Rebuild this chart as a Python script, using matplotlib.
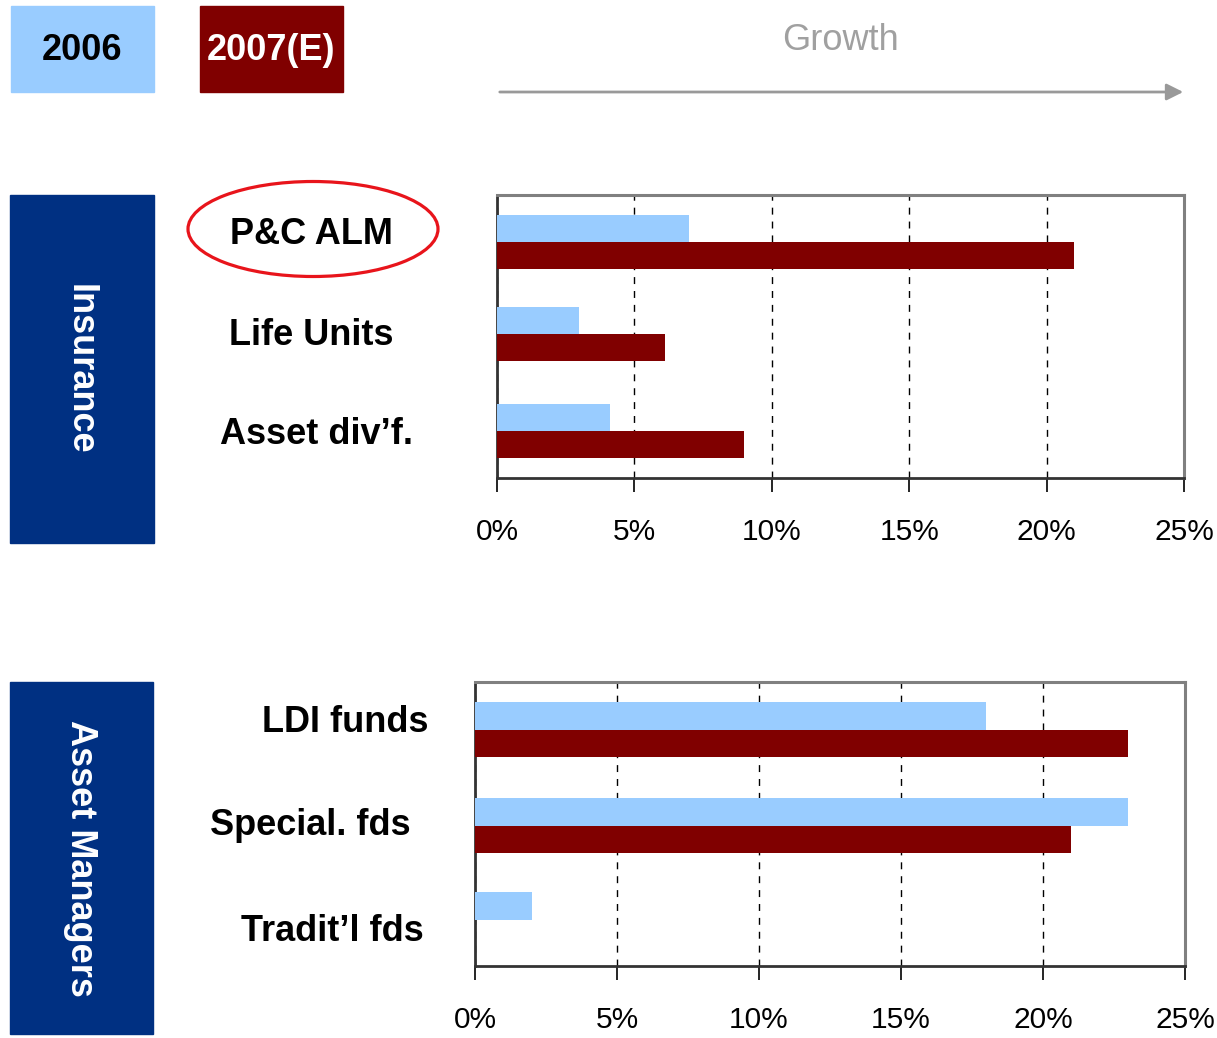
import matplotlib.pyplot as plt
from matplotlib.patches import Rectangle, Ellipse

# growth rates in %
ins_cats = ["P&C ALM", "Life Units", "Asset div\u2019f."]
ins_2006 = [7.0, 3.0, 4.1]
ins_2007 = [21.0, 6.1, 9.0]

am_cats = ["LDI funds", "Special. fds", "Tradit\u2019l fds"]
am_2006 = [18.0, 23.0, 2.0]
am_2007 = [23.0, 21.0, 0.0]

xticks = [0, 5, 10, 15, 20, 25]
xtick_labels = ["0%", "5%", "10%", "15%", "20%", "25%"]

LIGHT = "#99CCFF"
DARK = "#800000"
NAVY = "#003082"

plt.rcParams['font.family'] = ['Liberation Sans', 'DejaVu Sans']

fig = plt.figure(figsize=(12.17, 10.38), dpi=100)


def bar_panel(rect, cats, v06, v07, centers, h, label_xy):
    ax = fig.add_axes(rect)
    light_y = [c - h / 2 for c in centers]
    dark_y = [c + h / 2 for c in centers]
    ax.barh(light_y, v06, height=h, color=LIGHT, zorder=3)
    ax.barh(dark_y, v07, height=h, color=DARK, zorder=3)
    ax.set_ylim(3, 0)
    ax.set_xlim(0, 25)
    ax.set_xticks(xticks)
    ax.set_xticklabels(xtick_labels, fontsize=21.5)
    ax.tick_params(axis='x', direction='out', length=10, width=1.2, pad=19, color='black')
    ax.set_yticks([])
    ax.grid(axis='x', color='black', linestyle=(0, (5, 5)), linewidth=1, zorder=1)
    for s in ['top', 'right']:
        ax.spines[s].set_color('#808080')
        ax.spines[s].set_linewidth(2.2)
    for s in ['left', 'bottom']:
        ax.spines[s].set_color('#333333')
        ax.spines[s].set_linewidth(2)
    # category labels sit left of the frame, placed by hand like the slide
    for (lx, ly), name in zip(label_xy, cats):
        ax.text(lx, ly, name, transform=ax.transAxes,
                ha='center', va='center', fontsize=26, fontweight='bold')
    return ax


bar_panel([0.4084, 0.5395, 0.5645, 0.2726], ins_cats, ins_2006, ins_2007,
          [0.5, 1.47, 2.5], 0.286,
          [(-0.27, 0.86), (-0.27, 0.505), (-0.263, 0.152)])
bar_panel([0.3903, 0.0694, 0.5834, 0.2736], am_cats, am_2006, am_2007,
          [0.505, 1.52, 2.51], 0.29,
          [(-0.183, 0.859), (-0.232, 0.493), (-0.201, 0.12)])

# legend boxes
fig.patches.append(Rectangle((11 / 1217, 1 - 92 / 1038), 143 / 1217, 86 / 1038,
                             transform=fig.transFigure, color=LIGHT))
fig.patches.append(Rectangle((200 / 1217, 1 - 92 / 1038), 143 / 1217, 86 / 1038,
                             transform=fig.transFigure, color=DARK))
fig.text(82 / 1217, 1 - 50 / 1038, "2006", ha='center', va='center',
         fontsize=26, fontweight='bold', color='black')
fig.text(271 / 1217, 1 - 50 / 1038, "2007(E)", ha='center', va='center',
         fontsize=26, fontweight='bold', color='white')

# side group boxes
fig.patches.append(Rectangle((10 / 1217, 1 - 543 / 1038), 144 / 1217, 348 / 1038,
                             transform=fig.transFigure, color=NAVY))
fig.patches.append(Rectangle((10 / 1217, 1 - 1034 / 1038), 143 / 1217, 352 / 1038,
                             transform=fig.transFigure, color=NAVY))
fig.text(80 / 1217, 1 - 369 / 1038, "Insurance", rotation=-90, ha='center', va='center',
         fontsize=26, fontweight='bold', color='white')
fig.text(80 / 1217, 1 - 858 / 1038, "Asset Managers", rotation=-90, ha='center',
         va='center', fontsize=26, fontweight='bold', color='white')

# highlight ellipse
fig.patches.append(Ellipse((313 / 1217, 1 - 229 / 1038), 250 / 1217, 95 / 1038,
                           transform=fig.transFigure, fill=False,
                           edgecolor='#E8141B', linewidth=2.3))

# growth arrow
fig.text(840 / 1217, 1 - 40 / 1038, "Growth", ha='center', va='center',
         fontsize=26, color='#A0A0A0')
plt.annotate('', xy=(1186 / 1217, 1 - 92 / 1038), xytext=(497 / 1217, 1 - 92 / 1038),
             xycoords='figure fraction',
             arrowprops=dict(arrowstyle='-|>', color='#999999', lw=2,
                             mutation_scale=25))

fig.savefig("out.png", dpi=100)
